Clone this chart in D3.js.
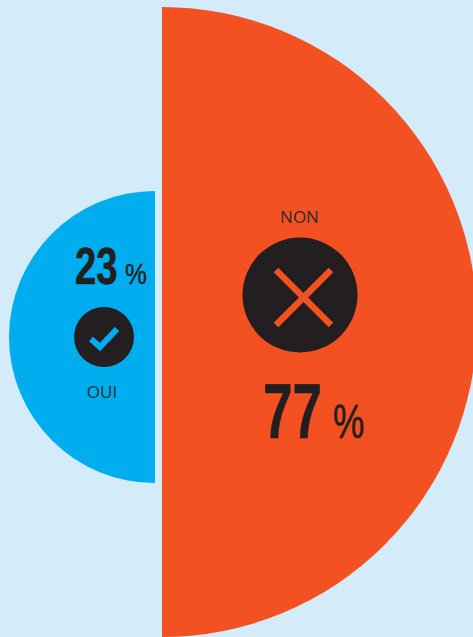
<!DOCTYPE html>
<html>
<head>
<meta charset="utf-8">
<script src="https://cdn.jsdelivr.net/npm/d3@7"></script>
<style>
html, body { margin: 0; padding: 0; background: #d4ecfa; overflow: hidden; }
svg { display: block; }
text { fill: #231f20; }
.num { font-family: "Liberation Sans Narrow", "Liberation Sans", sans-serif; font-weight: 700; stroke: #231f20; stroke-width: 0.6px; }
.sign { font-family: "Liberation Sans Narrow", "Liberation Sans", sans-serif; font-weight: 400; stroke: #231f20; stroke-width: 0.5px; }
.lab { font-family: "Open Sans", sans-serif; font-weight: 400; font-size: 17px; fill: #2b2b2b; }
</style>
</head>
<body>
<script>
var width = 473;
var height = 637;

var categories = ['OUI', 'NON'];
var values = [23, 77];
var colors = ['#00aeef', '#f45122'];
var dark = '#231f20';

var svg = d3.select('body')
    .append('svg')
    .attr('width', width)
    .attr('height', height);

// the two half discs are not to area in the original, just bigger/smaller
var radius = d3.scaleLinear()
    .domain([23, 77])
    .range([146, 315]);

var arc = d3.arc().innerRadius(0);

var half = [
    {x: 155, y: 337, start: -Math.PI, end: 0},
    {x: 162, y: 322, start: 0, end: Math.PI}
];

svg.selectAll('path.half')
    .data(values)
    .enter()
    .append('path')
    .attr('class', 'half')
    .attr('fill', (d, i) => colors[i])
    .attr('transform', (d, i) => 'translate(' + half[i].x + ',' + half[i].y + ')')
    .attr('d', (d, i) => arc({
        outerRadius: radius(d),
        startAngle: half[i].start,
        endAngle: half[i].end
    }));

// big number + small percent sign, squeezed because the original is a condensed face
function pct(x, y, value, size, sx, px, psize, psx) {
    svg.append('text')
        .attr('class', 'num')
        .attr('transform', 'translate(' + x + ',' + y + ') scale(' + sx + ',1)')
        .style('font-size', size + 'px')
        .text(value);
    svg.append('text')
        .attr('class', 'sign')
        .attr('transform', 'translate(' + px + ',' + y + ') scale(' + psx + ',1)')
        .style('font-size', psize + 'px')
        .text('%');
}

pct(75, 283.5, values[0], 51, 0.75, 125, 30, 0.82);
pct(263, 437.5, values[1], 77, 0.69, 333, 49, 0.72);

svg.append('text').attr('class', 'lab')
    .attr('x', 102).attr('y', 398)
    .attr('text-anchor', 'middle')
    .text(categories[0]);

svg.append('text').attr('class', 'lab')
    .attr('x', 299.5).attr('y', 223)
    .attr('text-anchor', 'middle')
    .text(categories[1]);

// oui badge
svg.append('circle').attr('cx', 104).attr('cy', 337).attr('r', 30).attr('fill', dark);
svg.append('path')
    .attr('d', d3.line()([[91, 339], [100, 347], [117, 329]]))
    .attr('fill', 'none')
    .attr('stroke', colors[0])
    .attr('stroke-width', 6);

// non badge
svg.append('circle').attr('cx', 300).attr('cy', 295).attr('r', 57.5).attr('fill', dark);
svg.append('path')
    .attr('d', d3.line()([[276, 270], [331, 325]]) + d3.line()([[331, 270], [276, 325]]))
    .attr('fill', 'none')
    .attr('stroke', colors[1])
    .attr('stroke-width', 6.5);
</script>
</body>
</html>
